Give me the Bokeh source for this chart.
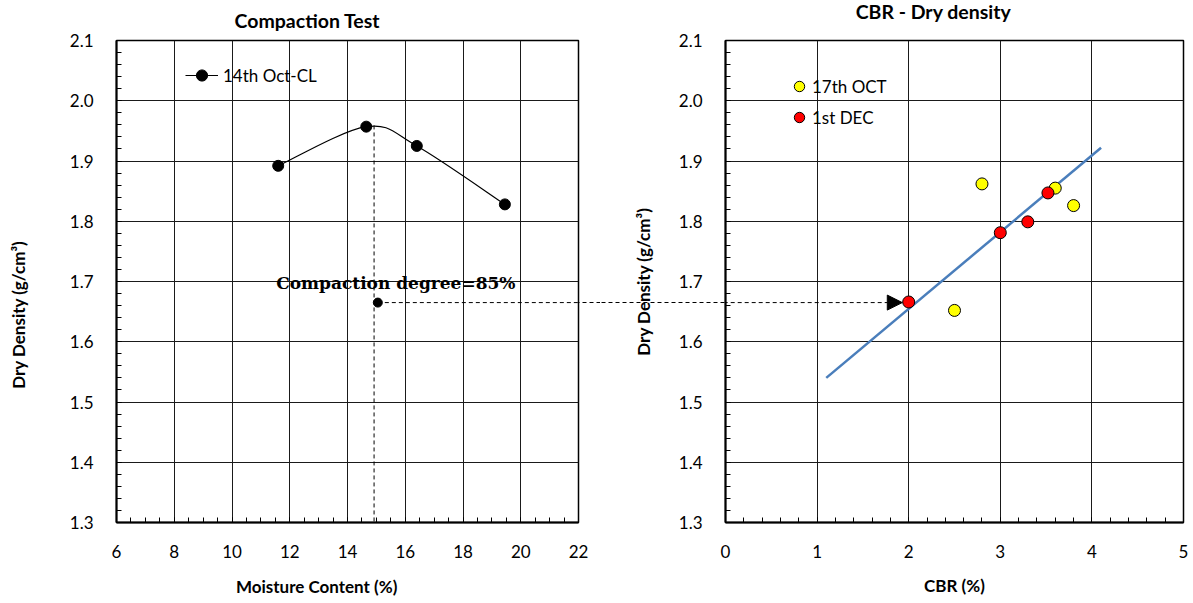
import math
from bokeh.plotting import figure
from bokeh.models import (Range1d, SingleIntervalTicker, FixedTicker, PrintfTickFormatter, Legend,
                          LegendItem, Arrow, NormalHead, Label, LinearAxis)
from bokeh.layouts import row
from bokeh.embed import file_html
from bokeh.resources import INLINE

# ---------------- data ----------------
# Compaction test (14th Oct-CL)
moisture = [11.6, 14.65, 16.4, 19.45]
dry_density = [1.892, 1.957, 1.925, 1.828]
opt_moisture = 14.92
max_density = 1.959
deg85_moisture = 15.05
deg85_density = 1.665

# CBR - dry density
oct17_cbr = [2.8, 3.6, 3.8, 2.5]
oct17_density = [1.862, 1.855, 1.826, 1.652]
dec1_cbr = [2.0, 3.0, 3.3, 3.52]
dec1_density = [1.666, 1.781, 1.799, 1.847]
trend_cbr = [1.1, 4.1]
trend_density = [1.54, 1.922]
arrow_cbr = 1.93

FONT = "Lato"
H = 602


def style(p, xint, xminor):
    p.background_fill_color = "white"
    p.border_fill_color = "white"
    p.outline_line_color = "black"
    p.outline_line_width = 1.5
    p.xgrid.grid_line_color = "#1a1a1a"
    p.ygrid.grid_line_color = "#1a1a1a"
    p.xgrid.grid_line_width = 1
    p.ygrid.grid_line_width = 1
    p.xaxis.ticker = SingleIntervalTicker(interval=xint, num_minor_ticks=xminor)
    p.yaxis.ticker = SingleIntervalTicker(interval=0.1, num_minor_ticks=5)
    p.yaxis.formatter = PrintfTickFormatter(format="%.1f")
    for ax in (p.xaxis[0], p.yaxis[0]):
        ax.axis_line_color = "black"
        ax.axis_line_width = 2
        ax.major_tick_in = 5
        ax.major_tick_out = 0
        ax.minor_tick_in = 5
        ax.minor_tick_out = 0
        ax.major_tick_line_color = "black"
        ax.minor_tick_line_color = "black"
        ax.major_label_text_font = FONT
        ax.major_label_text_font_size = "17px"
        ax.major_label_text_color = "black"
    p.xaxis.major_label_standoff = 22
    p.yaxis.major_label_standoff = 23


def connector_axis(tick_in, tick_out):
    # a bare axis whose single dashed tick, at the 85 % density, bridges the gap between charts
    ax = LinearAxis(ticker=FixedTicker(ticks=[deg85_density], minor_ticks=[]))
    ax.axis_line_alpha = 0
    ax.major_tick_in = tick_in
    ax.major_tick_out = tick_out
    ax.minor_tick_in = 0
    ax.minor_tick_out = 0
    ax.major_tick_line_color = "black"
    ax.major_tick_line_width = 1
    ax.major_tick_line_dash = "4 3"
    ax.major_label_standoff = 0
    ax.major_label_text_font_size = "0px"
    ax.major_label_text_alpha = 0
    return ax


def text_label(**kw):
    base = dict(text_align="center", text_baseline="middle", text_font=FONT,
                text_font_style="bold", text_font_size="17px", text_color="black")
    base.update(kw)
    return Label(**base)


# ---------------- left: compaction test ----------------
p1 = figure(width=600, height=H, x_range=Range1d(6, 22), y_range=Range1d(1.3, 2.1),
            output_backend="svg", toolbar_location=None,
            min_border_left=116, min_border_right=22, min_border_top=40, min_border_bottom=80)
style(p1, 2, 4)


def smooth_segments(xs, ys):
    px = [xs[0]] + list(xs) + [xs[-1]]
    py = [ys[0]] + list(ys) + [ys[-1]]
    seg = dict(x0=[], y0=[], x1=[], y1=[], cx0=[], cy0=[], cx1=[], cy1=[])
    for i in range(len(xs) - 1):
        seg["x0"].append(px[i + 1]); seg["y0"].append(py[i + 1])
        seg["x1"].append(px[i + 2]); seg["y1"].append(py[i + 2])
        seg["cx0"].append(px[i + 1] + (px[i + 2] - px[i]) / 6)
        seg["cy0"].append(py[i + 1] + (py[i + 2] - py[i]) / 6)
        seg["cx1"].append(px[i + 2] - (px[i + 3] - px[i + 1]) / 6)
        seg["cy1"].append(py[i + 2] - (py[i + 3] - py[i + 1]) / 6)
    return seg


seg = smooth_segments(moisture, dry_density)
p1.bezier(x0=seg["x0"], y0=seg["y0"], x1=seg["x1"], y1=seg["y1"],
          cx0=seg["cx0"], cy0=seg["cy0"], cx1=seg["cx1"], cy1=seg["cy1"],
          line_color="black", line_width=1.2)
legend_line = p1.line(x=[moisture[0]], y=[dry_density[0]], line_color="black", line_width=1.2)
dots = p1.scatter(moisture, dry_density, size=11, marker="circle",
                  fill_color="black", line_color="black")

# dashed guides
p1.segment(x0=[opt_moisture], y0=[max_density], x1=[opt_moisture], y1=[1.3],
           line_color="black", line_width=1, line_dash="4 3")
p1.scatter([deg85_moisture], [deg85_density], size=9, marker="circle",
           fill_color="black", line_color="black")
p1.add_layout(Arrow(end=None, x_start=deg85_moisture, y_start=deg85_density,
                    x_end=40, y_end=deg85_density,
                    line_color="black", line_width=1, line_dash="4 3"))
p1.add_layout(connector_axis(0, 22), "right")
p1.add_layout(Label(x=deg85_moisture, y=deg85_density, x_offset=18, y_offset=20,
                    text="Compaction degree=85%", text_align="center", text_baseline="middle",
                    text_font="DejaVu Serif", text_font_style="bold", text_font_size="17px",
                    text_color="black"))

leg1 = Legend(items=[LegendItem(label="14th Oct-CL", renderers=[legend_line, dots])],
              location=(65, 429), padding=4, margin=0, spacing=0,
              glyph_width=33, glyph_height=28, label_standoff=5,
              border_line_alpha=0, background_fill_alpha=0,
              label_text_font=FONT, label_text_font_size="17px", label_text_color="black")
p1.add_layout(leg1)

# title and axis labels (placed in side panels so they are not clipped to the frame)
p1.add_layout(text_label(x=12.61, y=2.1, y_offset=20, text="Compaction Test",
                         text_font_size="19.5px"), "above")
p1.add_layout(text_label(x=12.93, y=1.3, y_offset=-64, text="Moisture Content (%)"), "below")
p1.add_layout(text_label(x=6, y=1.645, x_offset=-98, angle=math.pi / 2,
                         text="Dry Density (g/cm³)"), "left")

# ---------------- right: CBR - dry density ----------------
p2 = figure(width=592, height=H, x_range=Range1d(0, 5), y_range=Range1d(1.3, 2.1),
            output_backend="svg", toolbar_location=None,
            min_border_left=125, min_border_right=9, min_border_top=40, min_border_bottom=80)
style(p2, 1, 5)
p2.xaxis.axis_label = "CBR (%)"
p2.yaxis.axis_label = "Dry Density (g/cm³)"
for ax in (p2.xaxis[0], p2.yaxis[0]):
    ax.axis_label_text_font = FONT
    ax.axis_label_text_font_style = "bold"
    ax.axis_label_text_font_size = "17px"
    ax.axis_label_text_color = "black"
p2.xaxis.axis_label_standoff = 14
p2.yaxis.axis_label_standoff = 22
p2.add_layout(connector_axis(97, 28), "left")

p2.line(trend_cbr, trend_density, line_color="#4A7EBB", line_width=2.5)
r_oct = p2.scatter(oct17_cbr, oct17_density, size=12, marker="circle",
                   fill_color="#FFFF00", line_color="black", line_width=1)
r_dec = p2.scatter(dec1_cbr, dec1_density, size=12, marker="circle",
                   fill_color="#FF0000", line_color="black", line_width=1)

p2.add_layout(Arrow(end=NormalHead(size=15, fill_color="black", line_color="black"),
                    x_start=-3, y_start=deg85_density, x_end=arrow_cbr, y_end=deg85_density,
                    line_color="black", line_width=1, line_dash="4 3"))

leg2 = Legend(items=[LegendItem(label="17th OCT", renderers=[r_oct]),
                     LegendItem(label="1st DEC", renderers=[r_dec])],
              location=(57, 388), padding=4, margin=0, spacing=5,
              glyph_width=26, glyph_height=26, label_standoff=0,
              border_line_alpha=0, background_fill_alpha=0,
              label_text_font=FONT, label_text_font_size="17px", label_text_color="black")
p2.add_layout(leg2)

p2.add_layout(text_label(x=2.27, y=2.1, y_offset=29, text="CBR - Dry density",
                         text_font_size="19.5px"), "above")

layout = row(p1, p2)
open("out.html", "w").write(file_html(layout, INLINE))
